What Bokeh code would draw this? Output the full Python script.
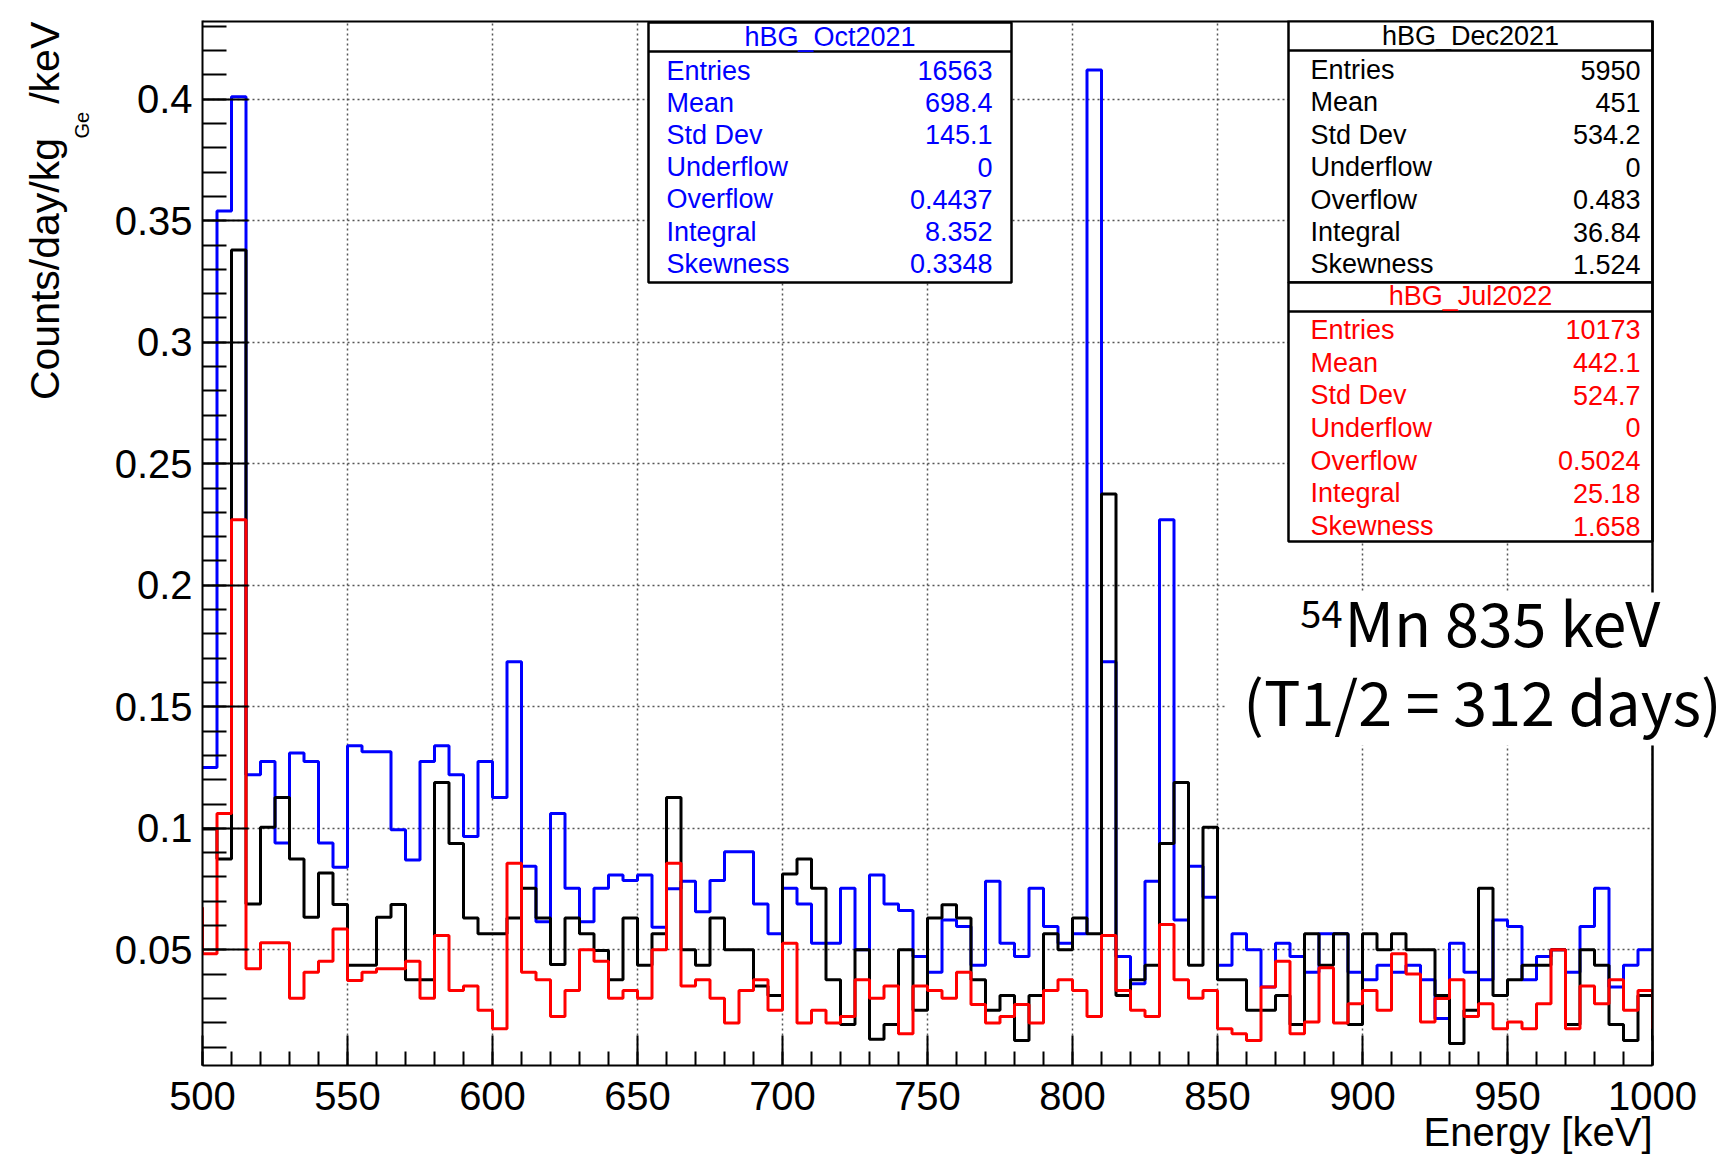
import math
from bokeh.plotting import figure
from bokeh.layouts import row
from bokeh.models import Range1d, FixedTicker, ColumnDataSource, Title
from bokeh.embed import file_html
from bokeh.resources import INLINE
from bokeh.core.properties import value

# ---------------- data (counts/day/kg_Ge/keV, 5 keV bins from 500 keV) ----------------
BIN_LOW = 500
BIN_WIDTH = 5

oct2021 = [
    0.125, 0.354, 0.401, 0.122, 0.1275, 0.094, 0.131, 0.1275, 0.094, 0.084,
    0.134, 0.1315, 0.1315, 0.0994, 0.087, 0.1275, 0.134, 0.122, 0.0966, 0.1275,
    0.1127, 0.1685, 0.0844, 0.0616, 0.1061, 0.0753, 0.0616, 0.0753, 0.0808, 0.0785,
    0.0808, 0.0593, 0.0751, 0.0782, 0.0657, 0.0785, 0.0904, 0.0904, 0.0689, 0.0566,
    0.0753, 0.0689, 0.0527, 0.0527, 0.0753, 0.05, 0.0808, 0.0689, 0.0662, 0.0473,
    0.0408, 0.0623, 0.0596, 0.0436, 0.0782, 0.0527, 0.0473, 0.0753, 0.0596, 0.0527,
    0.0566, 0.412, 0.1685, 0.0473, 0.036, 0.0782, 0.227, 0.0623, 0.0844, 0.0716,
    0.0436, 0.0566, 0.05, 0.0347, 0.0527, 0.0473, 0.0408, 0.0566, 0.0566, 0.0408,
    0.0377, 0.0436, 0.0408, 0.0436, 0.0377, 0.0217, 0.0527, 0.0408, 0.0377, 0.0623,
    0.0596, 0.0377, 0.0473, 0.05, 0.0408, 0.0596, 0.0753, 0.0347, 0.0436, 0.05,
]
dec2021 = [
    0.0997, 0.0874, 0.338, 0.0689, 0.1004, 0.1127, 0.0874, 0.0634, 0.0816, 0.0686,
    0.0436, 0.0436, 0.0634, 0.0686, 0.0377, 0.0377, 0.1189, 0.0938, 0.0631, 0.0566,
    0.0566, 0.0631, 0.0753, 0.0631, 0.044, 0.0631, 0.0566, 0.0497, 0.0377, 0.0631,
    0.0436, 0.0566, 0.1127, 0.05, 0.0436, 0.0631, 0.05, 0.05, 0.0351, 0.0312,
    0.0812, 0.0874, 0.0753, 0.0377, 0.0193, 0.05, 0.0132, 0.0193, 0.05, 0.0251,
    0.0631, 0.0685, 0.0631, 0.0377, 0.0251, 0.0312, 0.0127, 0.0312, 0.0566, 0.05,
    0.0631, 0.0566, 0.2376, 0.0312, 0.0377, 0.0436, 0.0938, 0.1189, 0.0436, 0.1004,
    0.0377, 0.0377, 0.0251, 0.0251, 0.0312, 0.0193, 0.0566, 0.0436, 0.0566, 0.0193,
    0.0566, 0.05, 0.0566, 0.05, 0.05, 0.0312, 0.0115, 0.0251, 0.0753, 0.0312,
    0.0377, 0.0436, 0.0436, 0.05, 0.0193, 0.05, 0.0436, 0.0193, 0.0127, 0.0312,
]
jul2022 = [
    0.0484, 0.1061, 0.227, 0.0422, 0.0529, 0.0529, 0.0301, 0.0408, 0.0453, 0.0586,
    0.0374, 0.0408, 0.0422, 0.0422, 0.0453, 0.0301, 0.0559, 0.0333, 0.0351, 0.0251,
    0.0175, 0.0856, 0.0408, 0.0377, 0.0226, 0.0333, 0.05, 0.0453, 0.0301, 0.0333,
    0.0301, 0.05, 0.0856, 0.0351, 0.0377, 0.0301, 0.0199, 0.0333, 0.0377, 0.0251,
    0.0527, 0.0199, 0.0251, 0.0199, 0.0226, 0.0377, 0.0301, 0.0351, 0.0155, 0.0351,
    0.0333, 0.0301, 0.0408, 0.0275, 0.0199, 0.0226, 0.0275, 0.0199, 0.0333, 0.0377,
    0.0333, 0.0226, 0.0559, 0.0333, 0.0251, 0.0226, 0.0604, 0.0377, 0.0301, 0.0333,
    0.0175, 0.0155, 0.0127, 0.0347, 0.0453, 0.0155, 0.0203, 0.0426, 0.0199, 0.0278,
    0.0333, 0.0251, 0.0484, 0.0401, 0.0203, 0.03, 0.0377, 0.0226, 0.0278, 0.0175,
    0.0203, 0.0175, 0.0278, 0.05, 0.0175, 0.0351, 0.0278, 0.0377, 0.0251, 0.0333,
]
# contents of the neighbouring bins just outside the shown range (None = not visible)
oct2021_outside = (None, None)
dec2021_outside = (None, 0.0127)
jul2022_outside = (0.0675, 0.0175)

X_TICKS = [500, 550, 600, 650, 700, 750, 800, 850, 900, 950, 1000]
Y_TICKS = [0.05, 0.1, 0.15, 0.2, 0.25, 0.3, 0.35, 0.4]
Y_TICK_LABELS = ["0.05", "0.1", "0.15", "0.2", "0.25", "0.3", "0.35", "0.4"]

STAT_NAMES = ["Entries", "Mean", "Std Dev", "Underflow", "Overflow", "Integral", "Skewness"]
oct_stats = ["16563", "698.4", "145.1", "0", "0.4437", "8.352", "0.3348"]
dec_stats = ["5950", "451", "534.2", "0", "0.483", "36.84", "1.524"]
jul_stats = ["10173", "442.1", "524.7", "0", "0.5024", "25.18", "1.658"]

BLUE, BLACK, RED = "#0000ff", "#000000", "#ff0000"

# ---------------- geometry (page pixels) ----------------
W, H = 1722, 1158
LW = 100                      # width of the strip holding the y title
FL, FT, FB = 202, 20, 1065    # frame left / top / bottom
FRAME_R = 1652                # right end of the histogram frame
PX_PER_KEV = 2.9
X0, X1 = 500, 1000
XV = X0 + (W - FL) / PX_PER_KEV   # visible x end (canvas frame runs to the page edge)
Y0, Y1 = 0.0024, 0.4324
FONT = "Liberation Sans"
ANNOT = "Noto Sans CJK JP"
K_LIB, K_CJK = 0.37, 0.42     # baseline correction (fraction of font size)


def dx(px):
    return X0 + (px - FL) / PX_PER_KEV


def dy(py):
    return Y1 - (py - FT) * (Y1 - Y0) / (FB - FT)


p = figure(width=W - LW, height=H, x_range=Range1d(X0, XV), y_range=Range1d(Y0, Y1),
           output_backend="svg", toolbar_location=None,
           min_border_left=FL - LW, min_border_right=0,
           min_border_top=FT, min_border_bottom=H - FB)
p.outline_line_color = None
p.background_fill_color = "white"
p.border_fill_color = "white"

# axes
xt = FixedTicker(ticks=X_TICKS, minor_ticks=list(range(500, 1001, 10)))
yt = FixedTicker(ticks=Y_TICKS, minor_ticks=[round(0.01 * k, 4) for k in range(1, 44)])
xa, ya = p.xaxis[0], p.yaxis[0]
xa.ticker = xt
ya.ticker = yt
xa.bounds = (X0, X1)
ya.major_label_overrides = {t: s for t, s in zip(Y_TICKS, Y_TICK_LABELS)}
for ax in (xa, ya):
    ax.axis_line_width = 2
    ax.axis_line_color = "black"
    ax.major_tick_line_width = 2
    ax.minor_tick_line_width = 2
    ax.major_tick_out = 0
    ax.minor_tick_out = 0
    ax.major_label_text_font = FONT
    ax.major_label_text_font_size = "40px"
    ax.major_label_text_color = "black"
xa.major_label_standoff = 16
ya.major_label_standoff = 10
xa.major_tick_in = 30
xa.minor_tick_in = 14
ya.major_tick_in = 46
ya.minor_tick_in = 24

# x title, right-aligned to the end of the axis
p.add_layout(Title(text="Energy [keV]", align="right", vertical_align="top",
                   offset=W - FRAME_R, standoff=-6, text_font=FONT,
                   text_font_size="40px", text_font_style="normal",
                   text_color="black"), "below")

for g, t in ((p.xgrid, xt), (p.ygrid, yt)):
    g.ticker = t
    g.grid_line_color = "#555555"
    g.grid_line_width = 1.5
    g.grid_line_dash = "2 3"


# ---------------- histograms ----------------
def step_path(vals, outside):
    edges = [BIN_LOW + BIN_WIDTH * i for i in range(len(vals) + 1)]
    xs, ys = [], []
    if outside[0] is not None:
        xs.append(edges[0]); ys.append(outside[0])
    for i, v in enumerate(vals):
        xs += [edges[i], edges[i + 1]]
        ys += [v, v]
    if outside[1] is not None:
        xs.append(edges[-1]); ys.append(outside[1])
    return xs, ys


for vals, outside, col in ((oct2021, oct2021_outside, BLUE),
                           (dec2021, dec2021_outside, BLACK),
                           (jul2022, jul2022_outside, RED)):
    xs, ys = step_path(vals, outside)
    p.line(xs, ys, line_color=col, line_width=3)

# blank area right of the frame, and white background of the annotation
p.quad(left=[X1], right=[XV + 5], top=[Y1 + 0.01], bottom=[Y0 - 0.01],
       fill_color="white", line_color=None)
p.quad(left=[dx(1225)], right=[XV + 5], top=[dy(592)], bottom=[dy(745)],
       fill_color="white", line_color=None)


def txt(fig_x, fig_y, text, size, color="black", align="left", font=FONT):
    p.text(x=[fig_x], y=[fig_y], text=[text], text_font=value(font),
           text_font_size=size, text_color=color, text_align=align,
           text_baseline="alphabetic")


def base(py, size, k=K_LIB):
    return dy(py - k * size)


# ---------------- stats boxes ----------------
def stats_box(left, right, top, bottom, sep, title, title_base, first_row, row_step,
              name_x, val_x, values, col):
    p.quad(left=[dx(left)], right=[dx(right)], top=[dy(top)], bottom=[dy(bottom)],
           fill_color="white", line_color="black", line_width=2.5)
    p.segment(x0=[dx(left)], y0=[dy(sep)], x1=[dx(right)], y1=[dy(sep)],
              line_color="black", line_width=2.5)
    txt(dx((left + right) / 2), base(title_base, 27), title, "27px", col, "center")
    ys = [base(first_row + row_step * i, 27) for i in range(len(values))]
    src = ColumnDataSource(dict(nx=[dx(name_x)] * len(values), vx=[dx(val_x)] * len(values),
                                y=ys, name=STAT_NAMES, val=values))
    p.text(x="nx", y="y", text="name", source=src, text_font=value(FONT),
           text_font_size="27px", text_color=col, text_align="left",
           text_baseline="alphabetic")
    p.text(x="vx", y="y", text="val", source=src, text_font=value(FONT),
           text_font_size="27px", text_color=col, text_align="right",
           text_baseline="alphabetic")


stats_box(648, 1011, 22, 282, 51, "hBG_Oct2021", 46.5, 80, 32.2, 666, 992, oct_stats, BLUE)
stats_box(1288, FRAME_R, 20, 282, 50, "hBG_Dec2021", 45.5, 79.5, 32.4, 1310, 1640, dec_stats, BLACK)
stats_box(1288, FRAME_R, 282, 541, 311, "hBG_Jul2022", 305.5, 339.3, 32.7, 1310, 1640, jul_stats, RED)

# frame top and right edges (right edge interrupted by the annotation)
p.segment(x0=[X1, X1], y0=[Y1, dy(745)], x1=[X1, X1], y1=[dy(592), Y0],
          line_color="black", line_width=2.5)
p.segment(x0=[X0], y0=[Y1], x1=[X1], y1=[Y1], line_color="black", line_width=4)

# annotation
txt(dx(1342), base(629, 38, K_CJK), "54", "38px", align="right", font=ANNOT)
txt(dx(1344), base(646, 61, K_CJK), "Mn 835 keV", "61px", font=ANNOT)
txt(dx(1482), base(725, 61, K_CJK), "(T1/2 = 312 days)", "61px", align="center", font=ANNOT)

# ---------------- y title strip ----------------
ylab = figure(width=LW, height=H, x_range=Range1d(0, LW), y_range=Range1d(H, 0),
              output_backend="svg", toolbar_location=None,
              x_axis_type=None, y_axis_type=None,
              min_border_left=0, min_border_right=0, min_border_top=0, min_border_bottom=0)
ylab.outline_line_color = None
ylab.background_fill_color = "white"
ylab.border_fill_color = "white"
NB = "\u00a0"
# (text, centre x, centre y, size) -- texts are centred on their middle point
for t, cx, cy, size in (("Counts/day/kg" + NB * 3 + "/keV", 44, 211, 41),
                        ("Ge", 81, 116, 20)):
    ylab.text(x=[cx], y=[cy], text=[t], angle=math.pi / 2,
              text_font=value(FONT), text_font_size=f"{size}px", text_color="black",
              text_align="center", text_baseline="middle")

layout = row(ylab, p)
open("out.html", "w").write(file_html(layout, INLINE))
